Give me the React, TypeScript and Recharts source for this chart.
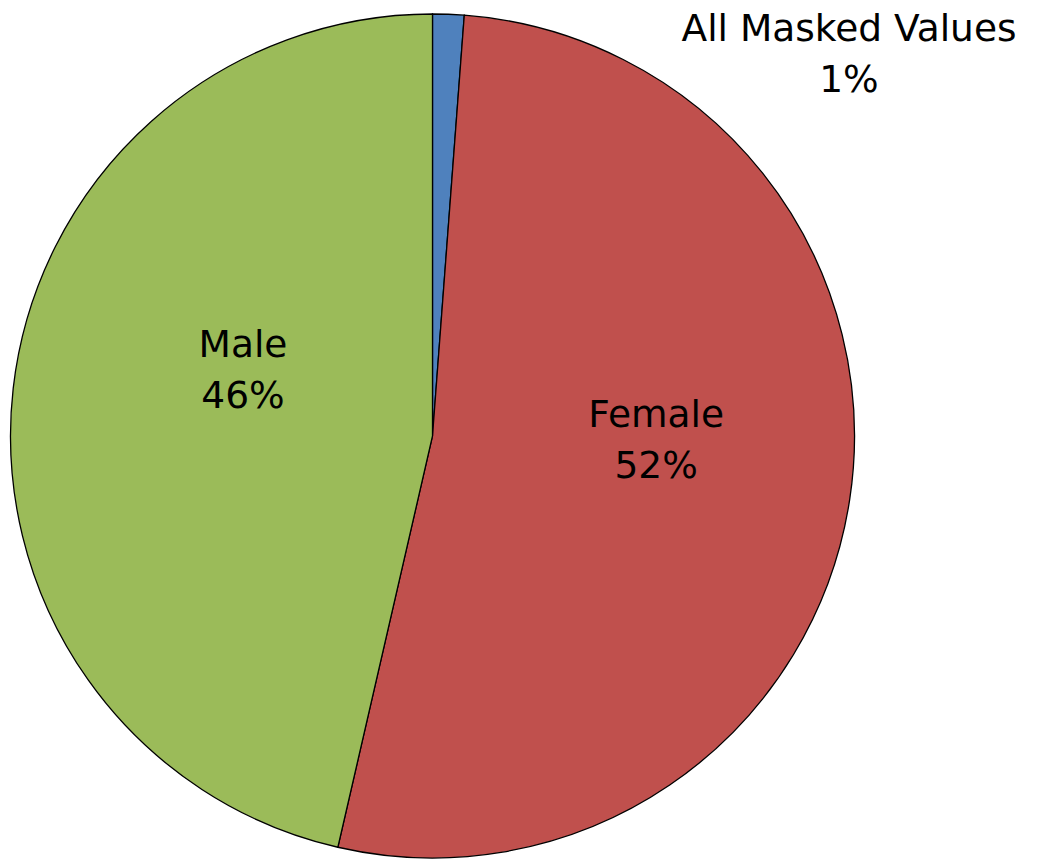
import React from "react";
import { PieChart, Pie, Cell } from "recharts";

const categories = ["All Masked Values", "Female", "Male"];
const values = [1.2, 52.4, 46.4];
const colors = ["#4F81BD", "#C0504D", "#9BBB59"];

const data = categories.map((name, i) => ({ name, value: values[i] }));

// first-line baseline anchor relative to pie centre, in units of the outer radius
const labelOffsets: Record<string, { dx: number; dy: number }> = {
  "All Masked Values": { dx: 0.987, dy: -0.936 },
  Female: { dx: 0.53, dy: -0.021 },
  Male: { dx: -0.449, dy: -0.187 },
};

const FONT = "'DejaVu Sans', sans-serif";

const renderLabel = (props: any) => {
  const { cx, cy, outerRadius, name, percent } = props;
  const off = labelOffsets[name] || { dx: 0, dy: 0 };
  const x = cx + off.dx * outerRadius;
  const y = cy + off.dy * outerRadius;
  const pct = Math.round(percent * 100) + "%";
  return (
    <text
      x={x}
      y={y}
      textAnchor="middle"
      fill="#000"
      fontFamily={FONT}
      fontSize={37.5}
    >
      <tspan x={x} y={y}>{name}</tspan>
      <tspan x={x} dy={51}>{pct}</tspan>
    </text>
  );
};

export default function App() {
  return (
    <div style={{ position: "absolute", left: 0, top: 0, width: 1038, height: 864, background: "#fff" }}>
      <PieChart width={1038} height={864} margin={{ top: 0, right: 0, bottom: 0, left: 0 }}>
        <Pie
          data={data}
          dataKey="value"
          nameKey="name"
          cx={432.5}
          cy={436}
          outerRadius={422}
          startAngle={90}
          endAngle={-270}
          stroke="#000"
          strokeWidth={1.3}
          label={renderLabel}
          labelLine={false}
          isAnimationActive={false}
        >
          {data.map((d, i) => (
            <Cell key={d.name} fill={colors[i]} />
          ))}
        </Pie>
      </PieChart>
    </div>
  );
}
